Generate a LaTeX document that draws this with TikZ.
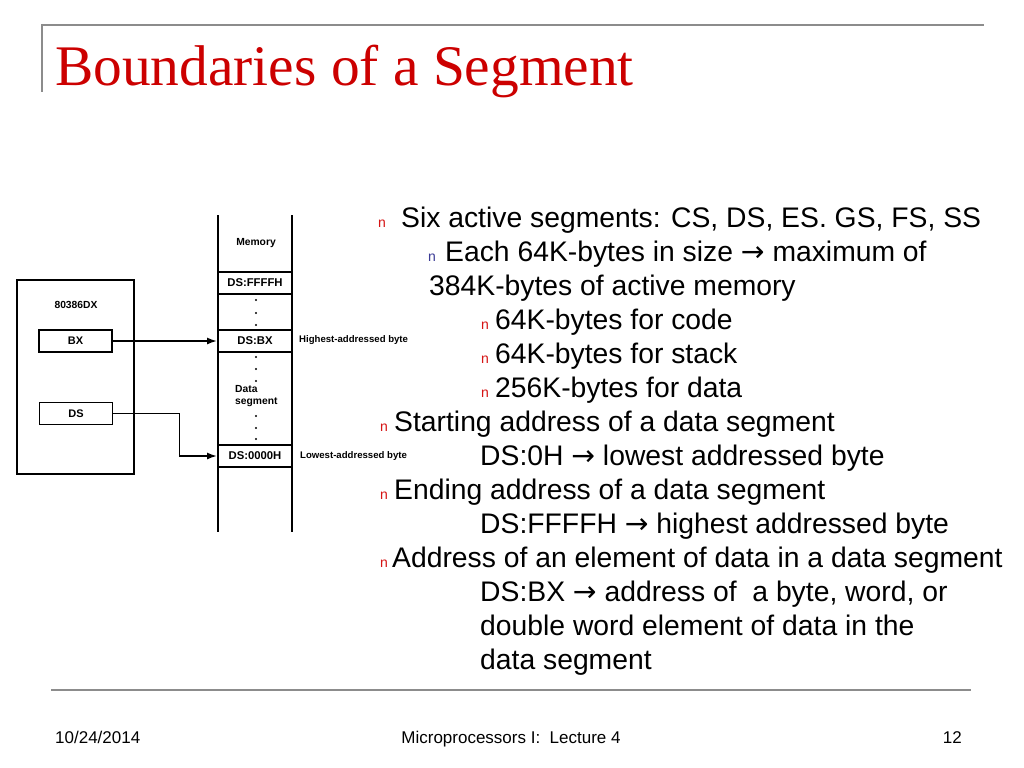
\documentclass[tikz,border=0pt]{standalone}
\usepackage{fontspec}
\setmainfont{Liberation Sans}
\newfontfamily\titlefont{Liberation Serif}
\newfontfamily\arrowfont{DejaVu Sans}
\newcommand{\rarr}{{\arrowfont →}}
\usetikzlibrary{arrows.meta}
\definecolor{titlered}{RGB}{204,0,0}
\definecolor{bulred}{RGB}{214,20,20}
\definecolor{bulblue}{RGB}{60,60,150}
\definecolor{rulegray}{RGB}{140,140,140}
\tikzset{
  txt/.style={inner sep=0pt, anchor=base west, font=\fontsize{28.3bp}{32bp}\selectfont},
  bulr/.style={inner sep=0pt, anchor=base west, text=bulred, font=\fontsize{14bp}{16bp}\selectfont},
  bulb/.style={inner sep=0pt, anchor=base west, text=bulblue, font=\fontsize{14bp}{16bp}\selectfont},
  foot/.style={inner sep=0pt, anchor=base, font=\fontsize{17bp}{20bp}\selectfont},
  rulel/.style={draw=rulegray, line width=2.2bp},
  dline/.style={line width=1.8bp, draw=black},
  memcell/.style={draw=black, line width=1.8bp, minimum width=74bp, minimum height=22bp, inner sep=0pt, font=\bfseries\fontsize{11.3bp}{13bp}\selectfont},
  reg/.style={draw=black, line width=1.8bp, minimum width=73bp, minimum height=22bp, inner sep=0pt, font=\bfseries\fontsize{11bp}{13bp}\selectfont},
  dlabel/.style={inner sep=0pt, font=\bfseries\fontsize{10.3bp}{12bp}\selectfont},
  side/.style={inner sep=0pt, anchor=west, font=\bfseries\fontsize{9.6bp}{11bp}\selectfont},
  dot/.style={circle, fill=black, inner sep=0pt, minimum size=2.4bp},
  arr/.style={line width=1.8bp, -{Latex[length=10bp,width=7bp]}},
}
\begin{document}
\begin{tikzpicture}[x=1bp,y=-1bp]
\useasboundingbox (0,0) rectangle (1024,768);
\fill[white] (0,0) rectangle (1024,768);
% header rules
\draw[rulel] (42,25) -- (984,25);
\draw[rulel] (42,24) -- (42,92);
\node[inner sep=0pt, anchor=base west, text=titlered, font=\titlefont\fontsize{57.4bp}{66bp}\selectfont] (title) at (55,86) {Boundaries of a Segment};
% footer
\draw[rulel] (51,690) -- (971,690);
\node[foot, anchor=base west] (date) at (55,743) {10/24/2014};
\node[foot] (course) at (511,743) {Microprocessors I:\ \ Lecture 4};
\node[foot, anchor=base east] (page) at (962,743) {12};
% body text
\node[bulr] (b1) at (378,227) {n};
\node[txt] (t1) at (401,227) {Six active segments: CS, DS, ES. GS, FS, SS};
\node[bulb] (b2) at (428,261) {n};
\node[txt] (t2) at (445,261) {Each 64K-bytes in size \rarr{} maximum of};
\node[txt] (t3) at (429,295) {384K-bytes of active memory};
\node[bulr] (b4) at (481,329) {n};
\node[txt] (t4) at (495,329) {64K-bytes for code};
\node[bulr] (b5) at (481,363) {n};
\node[txt] (t5) at (495,363) {64K-bytes for stack};
\node[bulr] (b6) at (481,397) {n};
\node[txt] (t6) at (495,397) {256K-bytes for data};
\node[bulr] (b7) at (380,431) {n};
\node[txt] (t7) at (394,431) {Starting address of a data segment};
\node[txt] (t8) at (480,465) {DS:0H \rarr{} lowest addressed byte};
\node[bulr] (b9) at (380,499) {n};
\node[txt] (t9) at (394,499) {Ending address of a data segment};
\node[txt] (t10) at (480,533) {DS:FFFFH \rarr{} highest addressed byte};
\node[bulr] (b11) at (380,567) {n};
\node[txt] (t11) at (392,567) {Address of an element of data in a data segment};
\node[txt] (t12) at (480,601) {DS:BX \rarr{} address of\ \ a byte, word, or};
\node[txt] (t13) at (480,635) {double word element of data in the};
\node[txt] (t14) at (480,669) {data segment};
% diagram: memory column
\draw[dline] (218,215) -- (218,532);
\draw[dline] (292,215) -- (292,532);
\node[dlabel] (memlbl) at (256,243) {Memory};
\node[memcell] (ffff) at (255,283) {DS:FFFFH};
\node[memcell] (dsbx) at (255,341) {DS:BX};
\node[memcell] (ds0) at (255,456) {DS:0000H};
\foreach \yy in {300,313,325,357,369,381,416,428,439} \node[dot] at (256,\yy) {};
\node[inner sep=0pt, anchor=north west, align=left, font=\bfseries\fontsize{10.3bp}{12.5bp}\selectfont] (dseg) at (235,385) {Data\\segment};
\node[side] (hi) at (299,340) {Highest-addressed byte};
\node[side] (lo) at (300,456) {Lowest-addressed byte};
% CPU
\node[draw=black, line width=1.8bp, minimum width=117bp, minimum height=194bp, inner sep=0pt] (cpu) at (75.5,377) {};
\node[dlabel] (cpulbl) at (76,305) {80386DX};
\node[reg] (bx) at (75.5,341) {BX};
\node[reg] (ds) at (76,413.5) {DS};
% connectors
\draw[arr] (bx.east) -- (dsbx.west);
\draw[arr] (ds.east) -- ++(66,0) |- (ds0.west);
\end{tikzpicture}
\end{document}
